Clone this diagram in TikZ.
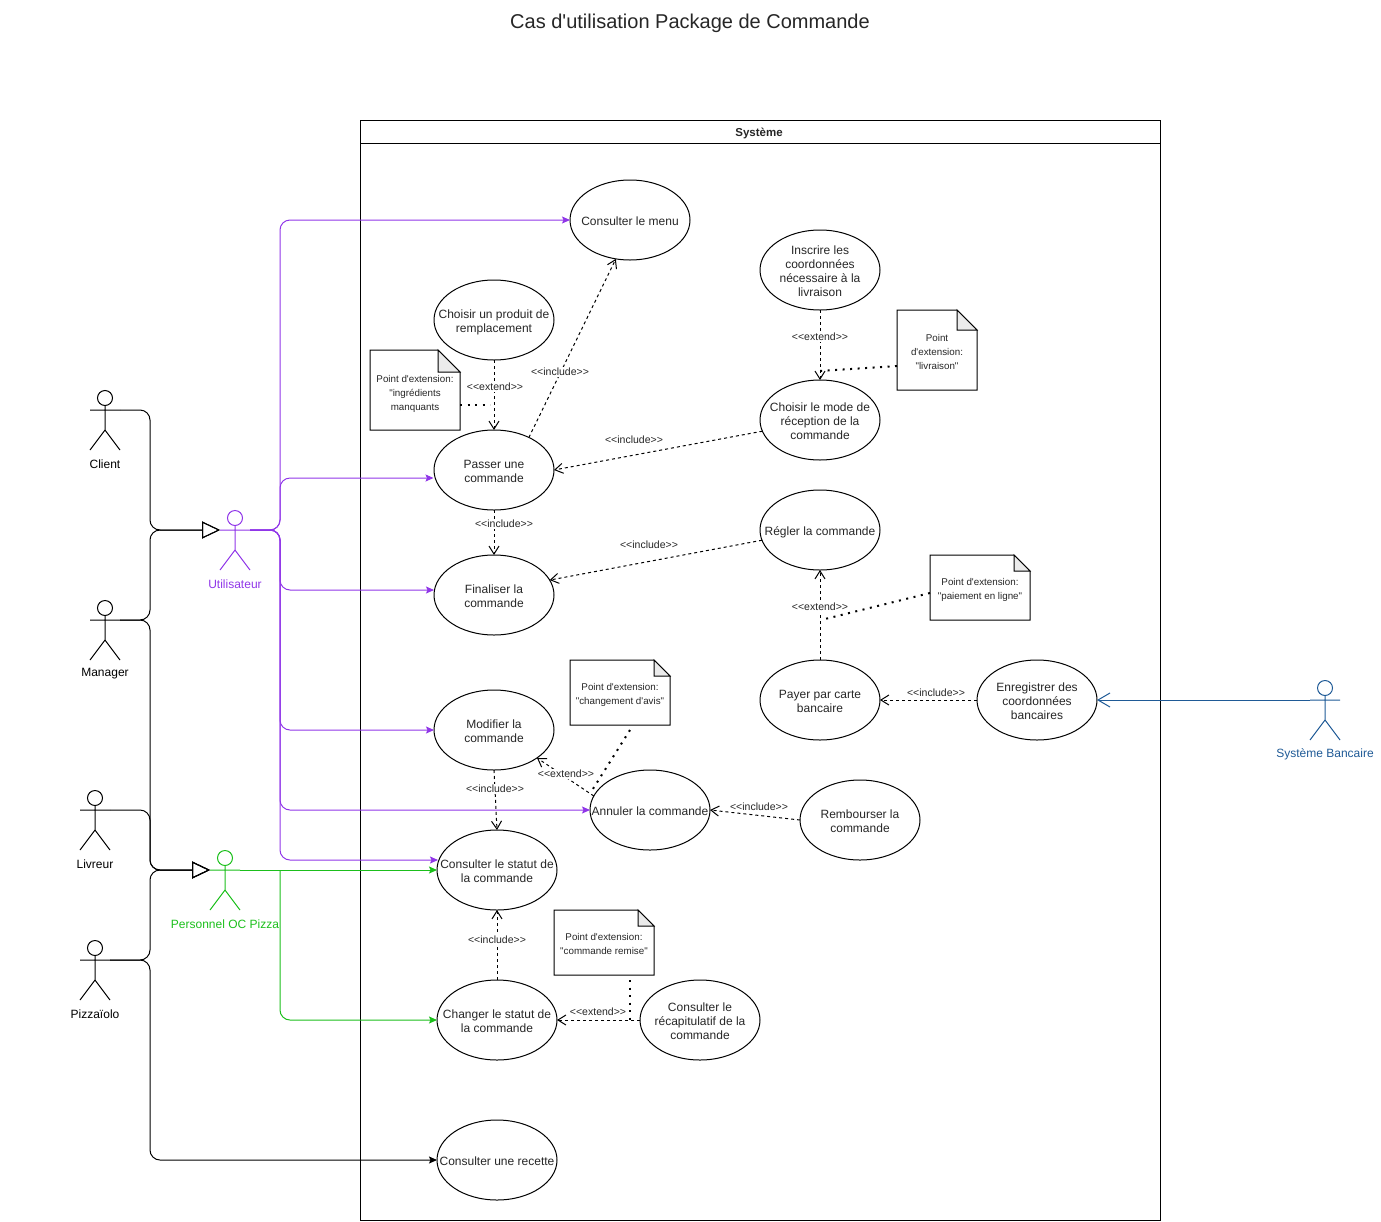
\documentclass[tikz,border=0pt]{standalone}
\usepackage{fontspec}
\usetikzlibrary{arrows.meta,shapes.geometric}
\newfontfamily\umlfont{Liberation Sans}
\definecolor{userpurple}{HTML}{9036E8}
\definecolor{staffgreen}{HTML}{1BBF1B}
\definecolor{bankblue}{HTML}{1F5A96}
\definecolor{foldgrey}{HTML}{EBEBEB}
% stick figure: name, x, y of the arms, colour, label
\newcommand{\actor}[5]{%
  \node[actorarm] (#1) at (#2,#3) {};
  \node[actorhead,draw=#4] (#1head) at (#2,#3-12) {};
  \coordinate (#1hip) at (#2,#3+20);
  \coordinate (#1footl) at (#2-15,#3+40);
  \coordinate (#1footr) at (#2+15,#3+40);
  \draw[#4] (#1.west)--(#1.east) (#1head)--(#1hip) (#1footl)--(#1hip)--(#1footr);
  \node[text=#4] (#1label) at (#2,#3+54) {#5};
}
% page corner of a note: name, size of the fold
\newcommand{\notefold}[2]{%
  \draw (#1.south west)--(#1.north west)--([xshift=-#2pt]#1.north east)
    --([yshift=-#2pt]#1.north east)--(#1.south east)--cycle;
  \draw[fill=foldgrey] ([xshift=-#2pt]#1.north east)--([xshift=-#2pt,yshift=-#2pt]#1.north east)
    --([yshift=-#2pt]#1.north east)--cycle;
}
\newcommand{\uctext}[1]{\makebox[0pt]{\raisebox{-5.3pt}[0pt][0pt]{\begin{tabular}{@{}c@{}}#1\end{tabular}}}}
\newcommand{\notetext}[2][5pt]{\raisebox{-#1}[0pt][0pt]{\begin{tabular}{@{}c@{}}#2\end{tabular}}}
\newcommand{\incl}{<{}<include>{}>}
\newcommand{\extd}{<{}<extend>{}>}
\begin{document}
\begin{tikzpicture}[
   x=1pt,y=-1pt,line width=1pt,
   every node/.style={font=\umlfont\fontsize{12}{14}\selectfont,text=black!85},
   actorarm/.style={rectangle,inner sep=0pt,outer sep=0pt,minimum width=30pt,minimum height=0pt},
   actorhead/.style={circle,inner sep=0pt,outer sep=0pt,minimum size=15pt},
   usecase/.style={draw,ellipse,inner sep=0pt,outer sep=0pt,minimum width=120pt,minimum height=80pt},
   notebox/.style={rectangle,inner sep=0pt,outer sep=0pt,font=\umlfont\fontsize{9.8}{14}\selectfont},
   lbl/.style={fill=white,inner sep=1pt,font=\umlfont\fontsize{10.5}{12}\selectfont},
   general/.style={-{Triangle[open,length=18pt,width=17pt]},rounded corners=10pt},
   assoc/.style={-{Stealth[length=8pt,width=7pt,inset=1.5pt]},rounded corners=10pt},
   dep/.style={dashed,dash pattern=on 3pt off 3pt,-{Straight Barb[length=8pt,width=10pt]}},
   dots/.style={line width=2pt,dash pattern=on 2pt off 5.5pt}
 ]
  \useasboundingbox (0,0) rectangle (1381,1221);
  \node[font=\umlfont\fontsize{20}{24}\selectfont] (title) at (690,23) {Cas d'utilisation Package de Commande};

  \node[draw,inner sep=0pt,outer sep=0pt,minimum width=800pt,minimum height=1100pt] (systeme) at (760,670) {};
  \node[draw,inner sep=0pt,outer sep=0pt,minimum width=800pt,minimum height=23pt] (systemehead) at (760,131.5) {};
  \node[font=\umlfont\fontsize{11.5}{14}\selectfont\bfseries] (systemename) at (759,133) {Système};

  % use cases
  \node[usecase] (menu) at (630,220) {\uctext{Consulter le menu}};
  \node[usecase] (produit) at (494,320) {\uctext{Choisir un produit de\\remplacement}};
  \node[usecase] (passer) at (494,470) {\uctext{Passer une\\commande}};
  \node[usecase] (finaliser) at (494,595) {\uctext{Finaliser la\\commande}};
  \node[usecase] (modifier) at (494,730) {\uctext{Modifier la\\commande}};
  \node[usecase] (annuler) at (650,810) {\uctext{Annuler la commande}};
  \node[usecase] (statut) at (497,870) {\uctext{Consulter le statut de\\la commande}};
  \node[usecase] (changer) at (497,1020) {\uctext{Changer le statut de\\la commande}};
  \node[usecase] (recette) at (497,1160) {\uctext{Consulter une recette}};
  \node[usecase] (recap) at (700,1020) {\uctext{Consulter le\\récapitulatif de la\\commande}};
  \node[usecase] (rembourser) at (860,820) {\uctext{Rembourser la\\commande}};
  \node[usecase] (inscrire) at (820,270) {\uctext{Inscrire les\\coordonnées\\nécessaire à la\\livraison}};
  \node[usecase] (mode) at (820,420) {\uctext{Choisir le mode de\\réception de la\\commande}};
  \node[usecase] (regler) at (820,530) {\uctext{Régler la commande}};
  \node[usecase] (payer) at (820,700) {\uctext{Payer par carte\\bancaire}};
  \node[usecase] (enregistrer) at (1037,700) {\uctext{Enregistrer des\\coordonnées\\bancaires}};

  % notes
  \node[notebox,minimum width=90pt,minimum height=80pt] (note1) at (415,390) {\notetext[6pt]{Point d'extension:\\"ingrédients\\manquants}};
  \node[notebox,minimum width=80pt,minimum height=80pt] (note2) at (937,350) {\notetext{Point\\d'extension:\\"livraison"}};
  \node[notebox,minimum width=100pt,minimum height=65pt] (note3) at (980,587.5) {\notetext{Point d'extension:\\"paiement en ligne"}};
  \node[notebox,minimum width=100pt,minimum height=65pt] (note4) at (620,692.5) {\notetext{Point d'extension:\\"changement d'avis"}};
  \node[notebox,minimum width=100pt,minimum height=65pt] (note5) at (604,942.5) {\notetext{Point d'extension:\\"commande remise"}};
  \notefold{note1}{22}
  \notefold{note2}{20}
  \notefold{note3}{16}
  \notefold{note4}{16}
  \notefold{note5}{16}

  % actors
  \actor{client}{105}{410}{black}{Client}
  \actor{manager}{105}{620}{black}{Manager}
  \actor{livreur}{95}{810}{black}{Livreur}
  \actor{pizzaiolo}{95}{960}{black}{Pizzaïolo}
  \actor{utilisateur}{235}{530}{userpurple}{Utilisateur}
  \actor{personnel}{225}{870}{staffgreen}{Personnel OC Pizza}
  \actor{banque}{1325}{700}{bankblue}{Système Bancaire}

  % generalisations
  \draw[general] (client.east)-|(150,530)--(utilisateur.west);
  \draw[general] (manager.east)-|(150,530)--(utilisateur.west);
  \draw[general] (manager.east)-|(150,870)--(personnel.west);
  \draw[general] (livreur.east)-|(150,870)--(personnel.west);
  \draw[general] (pizzaiolo.east)-|(150,870)--(personnel.west);
  \draw[assoc] (pizzaiolo.east)-|(150,1160)--(recette.west);

  % associations
  \coordinate (branch) at (280,870);
  \draw[assoc,userpurple] (utilisateur.east)-|(280,220)--(menu.west);
  \draw[assoc,userpurple] (utilisateur.east)-|(280,478)--(433.5,478);
  \draw[assoc,userpurple] (utilisateur.east)-|(280,590)--(434,590);
  \draw[assoc,userpurple] (utilisateur.east)-|(280,730)--(modifier.west);
  \draw[assoc,userpurple] (utilisateur.east)-|(280,810)--(annuler.west);
  \draw[assoc,userpurple] (utilisateur.east)-|(280,860)--(438,860);
  \draw[assoc,staffgreen] (personnel.east)--(statut.west);
  \draw[assoc,staffgreen] (branch)|-(changer.west);
  \draw[bankblue,-{Straight Barb[length=12pt,width=14pt]}] (banque.west)--(enregistrer.east);

  % dependencies
  \draw[dep] (produit.south)--(passer.north);
  \draw[dep] (passer.43)--(menu.250);
  \draw[dep] (mode.191)--(passer.east);
  \draw[dep] (passer.south)--(finaliser.north);
  \draw[dep] (regler.190)--(finaliser.15);
  \draw[dep] (inscrire.south)--(mode.north);
  \draw[dep] (payer.north)--(regler.south);
  \draw[dep] (enregistrer.west)--(payer.east);
  \draw[dep] (annuler.166)--(modifier.-33);
  \draw[dep] (modifier.south)--(statut.north);
  \draw[dep] (rembourser.west)--(annuler.east);
  \draw[dep] (changer.north)--(statut.south);
  \draw[dep] (recap.west)--(changer.east);

  \node[lbl] (lb1) at (495,387) {\extd};
  \node[lbl] (lb2) at (560,372) {\incl};
  \node[lbl] (lb3) at (634,440) {\incl};
  \node[lbl] (lb4) at (504,524) {\incl};
  \node[lbl] (lb5) at (649,545) {\incl};
  \node[lbl] (lb6) at (820,337) {\extd};
  \node[lbl] (lb7) at (820,607) {\extd};
  \node[lbl] (lb8) at (936,693) {\incl};
  \node[lbl] (lb9) at (566,774) {\extd};
  \node[lbl] (lb10) at (495,789) {\incl};
  \node[lbl] (lb11) at (759,807) {\incl};
  \node[lbl] (lb12) at (497,940) {\incl};
  \node[lbl] (lb13) at (598,1012) {\extd};

  % dotted links from the notes
  \coordinate (dot1) at (490,405);
  \coordinate (dot2) at (820,371);
  \coordinate (dot3) at (821,620);
  \coordinate (dot4) at (591,792);
  \coordinate (dot5) at (630,1020);
  \draw[dots] ([yshift=-15pt]note1.east)--(dot1);
  \draw[dots] ([yshift=-16pt]note2.west)--(dot2);
  \draw[dots] ([yshift=-5.5pt]note3.west)--(dot3);
  \draw[dots] ([xshift=10pt,yshift=-5pt]note4.south)--(dot4);
  \draw[dots] ([xshift=26pt,yshift=-5pt]note5.south)--(dot5);
 \end{tikzpicture}
\end{document}
